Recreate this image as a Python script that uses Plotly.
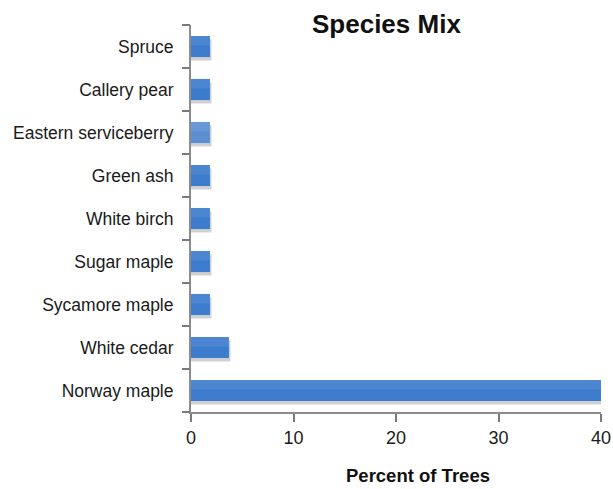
import plotly.graph_objects as go

# Species listed bottom-to-top as they appear on the category axis
species = ["Norway maple", "White cedar", "Sycamore maple", "Sugar maple",
           "White birch", "Green ash", "Eastern serviceberry", "Callery pear", "Spruce"]
percent = [40.7, 3.7, 1.85, 1.85, 1.85, 1.85, 1.85, 1.85, 1.85]
bar_colors = ["#3d7ccd", "#3d7ccd", "#3d7ccd", "#3d7ccd", "#3d7ccd",
              "#3d7ccd", "#5b8fd2", "#3d7ccd", "#3d7ccd"]
x_ticks = [0, 10, 20, 30, 40]

BAR_W = 0.49
W, H = 613, 489
L, R, T, B = 191, 12, 25, 77
pos = list(range(len(species)))
boundaries = [p - 0.5 for p in pos] + [pos[-1] + 0.5]

fig = go.Figure()

# soft drop shadow under each bar
fig.add_trace(go.Bar(
    y=pos, x=[v + 0.15 for v in percent], orientation="h",
    width=BAR_W, offset=-BAR_W / 2 - 0.08,
    marker=dict(color="rgba(120,120,120,0.35)", line=dict(width=0)),
    hoverinfo="skip", showlegend=False,
))
# main bars
fig.add_trace(go.Bar(
    y=pos, x=percent, orientation="h",
    width=BAR_W, offset=-BAR_W / 2,
    marker=dict(color=bar_colors, line=dict(width=0)),
    customdata=species, hovertemplate="%{customdata}: %{x}%<extra></extra>",
    showlegend=False,
))
# lighter top band to suggest the bevelled fill
fig.add_trace(go.Bar(
    y=pos, x=percent, orientation="h",
    width=BAR_W * 0.45, offset=BAR_W / 2 - BAR_W * 0.45,
    marker=dict(color="rgba(255,255,255,0.08)", line=dict(width=0)),
    hoverinfo="skip", showlegend=False,
))

fig.update_layout(
    width=W, height=H,
    margin=dict(l=L, r=R, t=T, b=B, autoexpand=False),
    paper_bgcolor="white", plot_bgcolor="white",
    barmode="overlay",
    font=dict(family="Liberation Sans, Arial, sans-serif", size=17, color="#1a1a1a"),
    xaxis=dict(
        range=[0, 40], tickvals=x_ticks, ticks="outside", ticklen=8, tickwidth=2,
        tickcolor="#7a7a7a", showline=True, linecolor="#8c8c8c", linewidth=2,
        showgrid=False, zeroline=False, tickfont=dict(size=18),
    ),
    yaxis=dict(
        range=[-0.5, len(species) - 0.5], tickvals=pos, ticktext=species,
        ticks="", showline=True, linecolor="#8c8c8c", linewidth=2,
        showgrid=False, zeroline=False, tickfont=dict(size=17.5),
        ticklabelstandoff=12,
    ),
    # companion axis carrying only the tick marks between categories
    yaxis2=dict(
        overlaying="y", side="left", range=[-0.5, len(species) - 0.5],
        tickvals=boundaries, ticktext=[""] * len(boundaries),
        ticks="outside", ticklen=8, tickwidth=2, tickcolor="#7a7a7a",
        showline=False, showgrid=False, zeroline=False,
    ),
    annotations=[
        dict(text="<b>Species Mix</b>",
             x=(386 - L) / (W - L - R), y=1 + (T - 24) / (H - T - B),
             xref="paper", yref="paper", xanchor="center", yanchor="middle",
             showarrow=False, font=dict(size=26, color="#111111")),
        dict(text="<b>Percent of Trees</b>",
             x=(418 - L) / (W - L - R), y=-(476 - (H - B)) / (H - T - B),
             xref="paper", yref="paper", xanchor="center", yanchor="middle",
             showarrow=False, font=dict(size=18.5, color="#111111")),
    ],
)
# an invisible trace so the companion axis is drawn
fig.add_trace(go.Scatter(x=[None], y=[None], yaxis="y2", showlegend=False, hoverinfo="skip"))

fig.write_html("out.html")
